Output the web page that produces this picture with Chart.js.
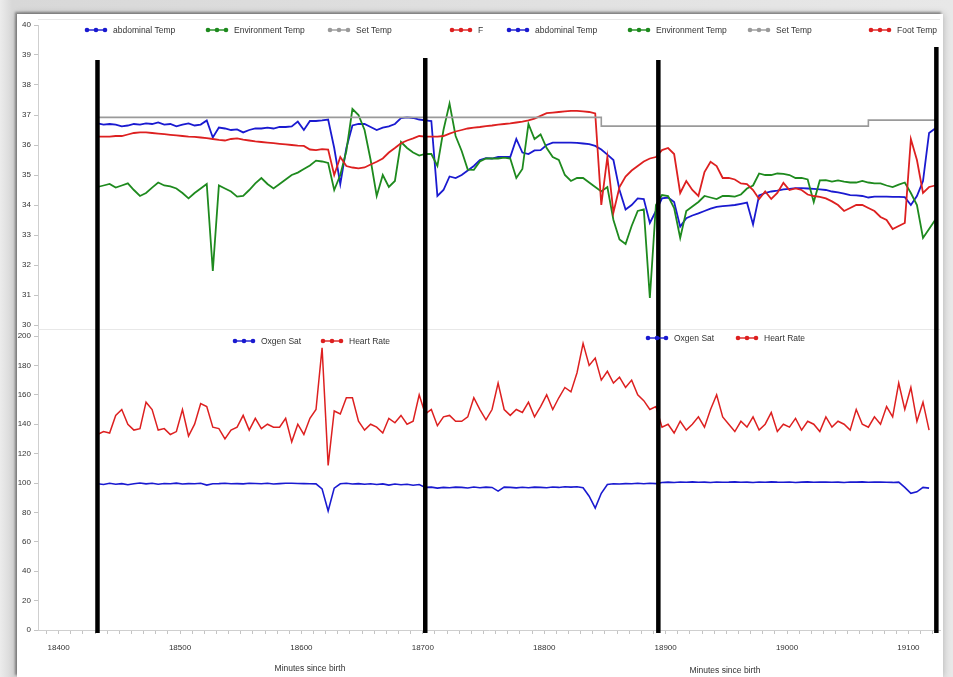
<!DOCTYPE html>
<html>
<head>
<meta charset="utf-8">
<script src="https://cdn.jsdelivr.net/npm/chart.js@4.4.1/dist/chart.umd.min.js"></script>
<style>
  body { margin: 0; width: 953px; height: 677px; overflow: hidden; position: relative;
         background: linear-gradient(to right, #ececec 0px, #d8d8d8 12px, #e8e8e8 953px);
         font-family: 'Liberation Sans', Arial, sans-serif; }
  #panel { position: absolute; left: 17px; top: 14px; width: 926px; height: 663px; background: #fff;
           box-shadow: -2px -2px 2px rgba(0,0,0,0.35), 0 0 7px rgba(0,0,0,0.25); }
  #wrap { position: absolute; left: 0; top: 0; width: 953px; height: 677px; }
  .leg { position: absolute; display: flex; align-items: center; font-size: 8.5px; color: #333;
         white-space: nowrap; transform: translateY(-50%); }
  .leg svg { margin-right: 5px; }
  .xtitle { position: absolute; font-size: 8.5px; color: #333; transform: translate(-50%, -50%); white-space: nowrap; }
</style>
</head>
<body>
<div id="panel"></div>
<div id="wrap"><canvas id="chart" width="953" height="677"></canvas></div>
<div id="legends"></div>
<div class="xtitle" style="left:310px;top:668px">Minutes since birth</div>
<div class="xtitle" style="left:725px;top:670px">Minutes since birth</div>
<script>
// sample times (minutes since birth), one reading every 5 minutes
const minutes = [
  18432,18437,18442,18447,18452,18457,18462,18467,18472,18477,
  18482,18487,18492,18497,18502,18507,18512,18517,18522,18527,
  18532,18537,18542,18547,18552,18557,18562,18567,18572,18577,
  18582,18587,18592,18597,18602,18607,18612,18617,18622,18627,
  18632,18637,18642,18647,18652,18657,18662,18667,18672,18677,
  18682,18687,18692,18697,18702,18707,18712,18717,18722,18727,
  18732,18737,18742,18747,18752,18757,18762,18767,18772,18777,
  18782,18787,18792,18797,18802,18807,18812,18817,18822,18827,
  18832,18837,18842,18847,18852,18857,18862,18867,18872,18877,
  18882,18887,18892,18897,18902,18907,18912,18917,18922,18927,
  18932,18937,18942,18947,18952,18957,18962,18967,18972,18977,
  18982,18987,18992,18997,19002,19007,19012,19017,19022,19027,
  19032,19037,19042,19047,19052,19057,19062,19067,19072,19077,
  19082,19087,19092,19097,19102,19107,19112,19117,19122
];

const abdominalTemp = [
  36.72,36.68,36.7,36.68,36.62,36.65,36.7,36.68,36.72,36.7,
  36.75,36.68,36.7,36.62,36.68,36.72,36.65,36.68,36.82,36.25,
  36.58,36.55,36.5,36.52,36.42,36.5,36.55,36.55,36.58,36.55,
  36.6,36.6,36.62,36.78,36.5,36.8,36.8,36.82,36.85,35.9,
  34.7,35.9,36.65,36.7,36.7,36.6,36.5,36.58,36.62,36.7,
  36.9,36.92,36.9,36.85,36.82,36.8,34.3,34.5,34.95,34.9,
  35.0,35.15,35.3,35.5,35.56,35.55,35.6,35.6,35.6,36.2,
  35.75,35.7,35.82,35.83,36.0,36.08,36.08,36.08,36.08,36.07,
  36.05,36.03,35.97,35.85,35.68,35.5,34.5,33.85,34.0,34.22,
  34.2,33.4,33.8,34.22,34.25,34.1,33.28,33.56,33.65,33.72,
  33.8,33.88,33.94,33.96,33.98,34.0,34.04,34.08,33.35,34.32,
  34.4,34.45,34.48,34.52,34.54,34.56,34.56,34.55,34.54,34.52,
  34.5,34.45,34.42,34.38,34.33,34.32,34.3,34.25,34.28,34.28,
  34.28,34.27,34.27,34.26,34.0,34.3,34.8,36.4,36.55
];

const environmentTemp = [
  34.6,34.65,34.7,34.58,34.65,34.72,34.5,34.3,34.4,34.58,
  34.75,34.65,34.62,34.55,34.4,34.22,34.4,34.55,34.7,31.8,
  34.65,34.55,34.45,34.28,34.3,34.5,34.72,34.9,34.7,34.55,
  34.7,34.85,35.0,35.08,35.2,35.32,35.48,35.45,35.4,34.5,
  35.0,35.8,37.2,37.0,36.5,35.5,34.3,35.0,34.6,34.8,
  36.1,35.9,35.75,35.65,35.7,35.7,35.3,36.5,37.38,36.3,
  35.8,35.18,35.17,35.45,35.55,35.55,35.55,35.58,35.55,34.9,
  35.2,36.7,36.2,36.35,35.9,35.6,35.5,35.0,34.8,34.9,
  34.9,34.75,34.6,34.45,34.6,33.5,32.85,32.7,33.3,33.8,
  33.85,30.9,34.0,34.33,34.3,33.9,32.9,33.8,33.95,34.1,
  34.3,34.25,34.2,34.3,34.3,34.28,34.35,34.55,34.65,35.05,
  35.0,35.0,35.05,35.04,35.0,34.9,34.9,34.85,34.1,34.82,
  34.83,34.78,34.82,34.78,34.75,34.75,34.8,34.75,34.72,34.72,
  34.65,34.6,34.68,34.75,34.4,34.0,32.9,33.2,33.5
];

const footTemp = [
  36.28,36.28,36.28,36.3,36.3,36.35,36.4,36.42,36.42,36.4,
  36.38,36.36,36.34,36.32,36.3,36.28,36.27,36.25,36.23,36.2,
  36.17,36.15,36.2,36.22,36.18,36.15,36.12,36.1,36.08,36.06,
  36.04,36.02,36.0,35.98,35.97,35.85,35.83,35.86,35.85,35.0,
  35.6,35.3,35.25,35.22,35.25,35.35,35.44,35.55,35.75,35.9,
  36.06,36.15,36.22,36.3,36.28,36.28,36.28,36.3,36.38,36.45,
  36.5,36.55,36.58,36.6,36.63,36.65,36.68,36.7,36.72,36.75,
  36.78,36.82,36.88,36.97,37.06,37.08,37.1,37.12,37.14,37.14,
  37.12,37.1,37.05,34.0,35.6,33.75,34.6,34.95,35.15,35.3,
  35.45,35.55,35.6,35.83,35.9,35.7,34.4,34.8,34.5,34.3,
  35.1,35.44,35.3,34.9,34.9,34.85,34.72,34.7,34.5,34.2,
  34.45,34.2,34.4,34.74,34.5,34.55,34.5,34.35,34.3,34.27,
  34.22,34.12,34.0,33.8,33.9,34.0,34.0,33.9,33.8,33.6,
  33.5,33.2,33.3,33.4,36.2,35.5,34.4,34.6,34.65
];

// set temperature changes (step function)
const setTempMinutes = [18432, 18847, 19067, 19122];
const setTempValues = [36.92, 36.63, 36.83, 36.83];

const heartRate = [
  133,135,134,146,150,140,136,137,155,150,
  136,137,133,135,150,132,140,154,152,138,
  137,130,136,138,146,136,144,137,140,138,
  138,144,128,140,133,144,150,192,112,149,
  147,158,158,142,136,140,138,134,144,141,
  146,140,142,160,147,150,139,145,146,142,
  142,145,158,150,143,150,168,150,146,150,
  148,155,145,152,160,150,158,165,162,175,
  195,180,185,170,176,168,172,165,170,160,
  156,150,152,138,140,134,142,136,140,145,
  138,150,160,145,140,135,142,138,145,136,
  140,148,135,140,138,144,136,142,140,135,
  145,138,142,140,136,150,140,138,145,140,
  152,145,168,150,165,142,155,136,null
];

const oxygenSat = [
  99.5,99,99.8,99.2,99.6,98.8,99.5,100,99.4,99.8,
  99.2,99.7,99.5,99.9,99.3,99.6,99.5,99.8,98.6,99.5,
  99.6,99.8,99.5,99.6,99.4,99.8,99.7,99.5,99.8,99.3,
  99.6,99.8,99.8,99.7,99.6,99.5,99.4,96,81,96.5,
  99.5,99.8,99.3,99.6,99.2,99.5,99,99.4,98.6,99.3,
  98.8,99.2,98.5,99,97,97.2,96.5,97,96.8,97.2,
  97,96.6,97.3,96.8,97.2,97,94.5,97.2,97,96.7,
  97.1,96.8,97.2,97,96.8,97.3,97,97.5,97.2,97.5,
  96.8,91,83,93,99,99.5,99.3,99.6,99.5,99.8,
  99.5,99.8,99.6,100.3,100.6,100.4,100.7,100.5,100.8,100.5,
  100.6,100.4,100.7,100.5,100.6,100.8,100.5,100.6,100.4,100.7,
  100.5,100.8,100.6,100.5,100.7,100.4,100.6,100.8,100.5,100.6,
  100.7,100.5,100.6,100.4,100.7,100.6,100.8,100.5,100.6,100.7,
  100.5,100.4,100.6,97,93,94,97,96.5,null
];

// black separator lines between recording segments
const markerMinutes = [18432, 18702, 18894, 19123];
const markerTopTemps = [38.83, 38.9, 38.83, 39.27];

// legend entries as they appear in the stitched figure
const tempLegend = [
  ['abdominal Temp', '#1a1ad0', 84], ['Environment Temp', '#1e8a1e', 205], ['Set Temp', '#9a9a9a', 327],
  ['F', '#dd2020', 449], ['abdominal Temp', '#1a1ad0', 506], ['Environment Temp', '#1e8a1e', 627],
  ['Set Temp', '#9a9a9a', 747], ['Foot Temp', '#dd2020', 868]
];
const vitalLegend = [
  ['Oxgen Sat', '#1a1ad0', 232, 341], ['Heart Rate', '#dd2020', 320, 341],
  ['Oxgen Sat', '#1a1ad0', 645, 338], ['Heart Rate', '#dd2020', 735, 338]
];

const COLORS = { blue: '#1a1ad0', green: '#1e8a1e', gray: '#9a9a9a', red: '#dd2020' };

const legendBox = document.getElementById('legends');
const symbol = c => `<svg width="24" height="6"><line x1="2" y1="3" x2="22" y2="3" stroke="${c}" stroke-width="1.4"/>` +
  `<circle cx="3" cy="3" r="2.3" fill="${c}"/><circle cx="12" cy="3" r="2.3" fill="${c}"/><circle cx="21" cy="3" r="2.3" fill="${c}"/></svg>`;
tempLegend.forEach(([text, c, left]) => {
  legendBox.insertAdjacentHTML('beforeend', `<div class="leg" style="left:${left}px;top:30px">${symbol(c)}<span>${text}</span></div>`);
});
vitalLegend.forEach(([text, c, left, top]) => {
  legendBox.insertAdjacentHTML('beforeend', `<div class="leg" style="left:${left}px;top:${top}px">${symbol(c)}<span>${text}</span></div>`);
});

const toPoints = arr => minutes.map((m, i) => ({ x: m, y: arr[i] }));

const markerLines = {
  id: 'markerLines',
  beforeDatasetsDraw(chart) {
    const { ctx, chartArea, scales: { yTemp, yVital } } = chart;
    ctx.save();
    ctx.strokeStyle = '#e8e8e8';
    ctx.lineWidth = 1;
    ctx.beginPath();
    ctx.moveTo(chartArea.left, Math.round(yVital.top) + 4.5);
    ctx.lineTo(chartArea.right, Math.round(yVital.top) + 4.5);
    ctx.moveTo(chartArea.left, Math.round(yTemp.getPixelForValue(40.2)) + 0.5);
    ctx.lineTo(chartArea.right, Math.round(yTemp.getPixelForValue(40.2)) + 0.5);
    ctx.stroke();
    ctx.restore();
  },
  afterDatasetsDraw(chart) {
    const { ctx, scales: { x, yTemp, yVital } } = chart;
    ctx.save();
    ctx.strokeStyle = '#000';
    ctx.lineWidth = 4.5;
    markerMinutes.forEach((m, k) => {
      const px = x.getPixelForValue(m);
      ctx.beginPath();
      ctx.moveTo(px, yTemp.getPixelForValue(markerTopTemps[k]));
      ctx.lineTo(px, yVital.getPixelForValue(-2));
      ctx.stroke();
    });
    ctx.restore();
  }
};

Chart.defaults.font.family = "'Liberation Sans', Arial, sans-serif";
Chart.defaults.font.size = 8;
Chart.defaults.color = '#333';

const lineSet = (label, data, color, axis, width) => ({
  label, data, yAxisID: axis, borderColor: color, backgroundColor: color,
  borderWidth: width, pointRadius: 0, tension: 0, fill: false
});

new Chart(document.getElementById('chart'), {
  type: 'line',
  data: {
    datasets: [
      Object.assign(lineSet('Set Temp', setTempMinutes.map((m, i) => ({ x: m, y: setTempValues[i] })), COLORS.gray, 'yTemp', 1.6), { stepped: 'before' }),
      lineSet('Foot Temp', toPoints(footTemp), COLORS.red, 'yTemp', 1.8),
      lineSet('Environment Temp', toPoints(environmentTemp), COLORS.green, 'yTemp', 1.8),
      lineSet('abdominal Temp', toPoints(abdominalTemp), COLORS.blue, 'yTemp', 1.8),
      lineSet('Oxgen Sat', toPoints(oxygenSat), COLORS.blue, 'yVital', 1.6),
      lineSet('Heart Rate', toPoints(heartRate), COLORS.red, 'yVital', 1.5)
    ]
  },
  options: {
    responsive: false,
    animation: false,
    layout: { padding: { left: 0, right: 13, top: 25, bottom: 0 } },
    plugins: { legend: { display: false }, tooltip: { enabled: false } },
    scales: {
      x: {
        type: 'linear', min: 18383, max: 19126,
        afterFit: s => { s.height = 47; },
        grid: { drawOnChartArea: false, tickLength: 4, color: '#c4c4c4' },
        border: { color: '#cfcfcf' },
        ticks: {
          stepSize: 10, includeBounds: false, autoSkip: false, maxRotation: 0, padding: 9,
          callback: v => (v % 100 === 0 ? String(v) : '')
        }
      },
      yVital: {
        type: 'linear', position: 'left', stack: 'main', stackWeight: 305,
        min: 0, max: 207.5,
        afterFit: s => { s.width = 38; },
        grid: { drawOnChartArea: false, tickLength: 4, color: '#c4c4c4' },
        border: { color: '#cfcfcf' },
        ticks: { stepSize: 10, includeBounds: false, padding: 3 }
      },
      yTemp: {
        type: 'linear', position: 'left', stack: 'main', stackWeight: 300,
        min: 30, max: 40,
        afterFit: s => { s.width = 38; },
        grid: { drawOnChartArea: false, tickLength: 4, color: '#c4c4c4' },
        border: { color: '#cfcfcf' },
        ticks: { stepSize: 1, padding: 3 }
      }
    }
  },
  plugins: [markerLines]
});
</script>
</body>
</html>
